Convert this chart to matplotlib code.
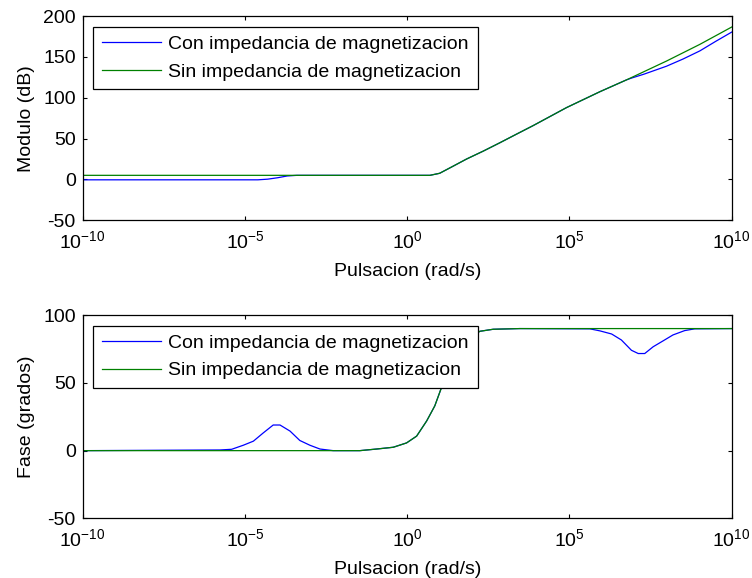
import numpy as np
import matplotlib
matplotlib.use('Agg')
import matplotlib.pyplot as plt

plt.rcParams['font.family'] = ['Liberation Sans', 'DejaVu Sans']
plt.rcParams['axes.unicode_minus'] = False
plt.rcParams['mathtext.fontset'] = 'custom'
plt.rcParams['mathtext.rm'] = 'Liberation Sans'

# valores (frecuencia como exponente de 10)
mag_con_exp = [-10, -4.6, -4.3, -4.0, -3.7, -3.4, 0.7, 1.0, 1.4, 1.83, 2.34, 2.86, 3.37, 3.88, 4.91, 5.94, 6.76, 6.9, 7.3, 7.99, 8.5, 9.02, 9.5, 10]
mag_con = [-0.5, -0.5, 0.3, 2.0, 4.2, 5.0, 5.0, 7.5, 15.9, 25.0, 34.6, 45.0, 55.5, 65.9, 88.0, 107.5, 122.0, 124.0, 129.0, 138.7, 147.5, 157.5, 169.0, 180.5]

mag_sin_exp = [-10, 0.7, 1.0, 1.4, 1.83, 2.34, 2.86, 3.37, 3.88, 4.91, 5.94, 6.76, 7.99, 9.02, 10]
mag_sin = [5.0, 5.0, 7.5, 15.9, 25.0, 34.6, 45.0, 55.5, 65.9, 88.0, 107.5, 122.0, 145.0, 165.5, 186.7]

fase_con_exp = [-10, -5.77, -5.41, -5.05, -4.74, -4.44, -4.13, -3.92, -3.61, -3.31, -3.0, -2.69, -2.28,
                -1.46, -0.94, -0.43, -0.02, 0.29, 0.6, 0.85, 1.03, 1.3, 1.6, 2.0, 2.24, 2.65, 3.47,
                5.63, 5.94, 6.30, 6.60, 6.91, 7.12, 7.32, 7.58, 7.89, 8.19, 8.55, 8.86, 10]
fase_con = [0, 0.5, 1.0, 4.0, 7.0, 13.0, 18.9, 18.9, 14.4, 7.5, 4.0, 1.2, 0,
            0, 1.2, 2.5, 5.7, 10.7, 21.9, 33.0, 44.8, 63.0, 76.0, 84.5, 88.0, 89.5, 90.0,
            89.8, 88.3, 86.0, 81.6, 74.0, 71.6, 71.6, 76.6, 81.0, 85.3, 88.5, 89.8, 90.0]

fase_sin_exp = [-10, -1.46, -0.94, -0.43, -0.02, 0.29, 0.6, 0.85, 1.03, 1.3, 1.6, 2.0, 2.24, 2.65, 3.47, 10]
fase_sin = [0, 0, 1.2, 2.5, 5.7, 10.7, 21.9, 33.0, 44.8, 63.0, 76.0, 84.5, 88.0, 89.5, 90.0, 90.0]

etiquetas = ['Con impedancia de magnetizacion', 'Sin impedancia de magnetizacion']

fig = plt.figure(figsize=(7.52, 5.78), dpi=100)
ax1 = fig.add_axes([0.110, 0.619, 0.863, 0.353])
ax2 = fig.add_axes([0.110, 0.103, 0.863, 0.352])

def estilo(ax, ylim, yticks, ylabel):
    ax.set_xscale('log')
    ax.set_xlim(1e-10, 1e10)
    ax.set_ylim(*ylim)
    ax.set_xticks([1e-10, 1e-5, 1e0, 1e5, 1e10])
    ax.xaxis.set_minor_locator(matplotlib.ticker.NullLocator())
    ax.set_yticks(yticks)
    ax.tick_params(direction='in', top=True, right=True, length=3, width=0.8,
                   labelsize=14)
    ax.tick_params(axis='x', pad=7)
    ax.tick_params(axis='y', pad=5)
    for s in ax.spines.values():
        s.set_linewidth(0.9)
    ax.set_xlabel('Pulsacion (rad/s)', fontsize=14, labelpad=8)
    ax.set_ylabel(ylabel, fontsize=14, labelpad=6)
    leg = ax.legend(loc='upper left', bbox_to_anchor=(0, 1), borderaxespad=0.55,
                    fontsize=14, frameon=True, fancybox=False, framealpha=1,
                    edgecolor='black', handlelength=3.05, handletextpad=0.35,
                    labelspacing=0.5, borderpad=0.45)
    leg.get_frame().set_linewidth(0.9)

ax1.plot(10.0 ** np.array(mag_con_exp), mag_con, color='#0000ff', lw=0.9, label=etiquetas[0])
ax1.plot(10.0 ** np.array(mag_sin_exp), mag_sin, color='#008000', lw=0.9, label=etiquetas[1])
estilo(ax1, (-50, 200), [-50, 0, 50, 100, 150, 200], 'Modulo (dB)')

ax2.plot(10.0 ** np.array(fase_con_exp), fase_con, color='#0000ff', lw=0.9, label=etiquetas[0])
ax2.plot(10.0 ** np.array(fase_sin_exp), fase_sin, color='#008000', lw=0.9, label=etiquetas[1])
estilo(ax2, (-50, 100), [-50, 0, 50, 100], 'Fase (grados)')

fig.savefig('out.png', dpi=100)
